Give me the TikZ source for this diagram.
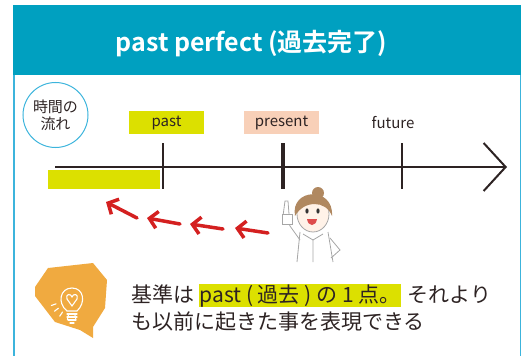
\documentclass[tikz,border=0pt]{standalone}
\usepackage{fontspec}
\setmainfont{Noto Sans CJK JP}[BoldFont={Noto Sans CJK JP Bold}]
\usepackage{tikz}
\usetikzlibrary{positioning,arrows.meta}
\definecolor{cHead}{RGB}{0,160,192}
\definecolor{cFrame}{RGB}{60,180,220}
\definecolor{cPast}{RGB}{220,224,0}
\definecolor{cPres}{RGB}{248,208,184}
\definecolor{cArrow}{RGB}{212,32,32}
\definecolor{cBulb}{RGB}{240,170,64}
\definecolor{cText}{RGB}{45,35,35}
\definecolor{cHair}{RGB}{176,136,96}
\definecolor{cSkin}{RGB}{255,242,232}

\begin{document}
\begin{tikzpicture}[x=1pt,y=-1pt,
   lbl/.style={minimum width=75pt,minimum height=23pt,inner sep=0pt,font=\fontsize{15}{15}\selectfont,text=cText},
   tick/.style={line width=2pt,draw=cText},
   back/.style={-{Straight Barb[length=8pt,width=17pt]},line width=3.5pt,draw=cArrow,line cap=round},
   body/.style={font=\fontsize{21}{21}\selectfont,text=cText,inner sep=0pt}]
  \useasboundingbox (0,0) rectangle (523,356);
  % frame and header bar
  \draw[cFrame,line width=1.2pt] (14,75) -- (14,356) (520.5,75) -- (520.5,356);
  \fill[cHead] (13,5) rectangle (521,75);
  \node[font=\fontsize{25}{25}\selectfont\bfseries,text=white,anchor=base] (title) at (251.5,51) {past perfect (過去完了)};
  \node[circle,draw=cFrame,line width=1pt,minimum size=65pt,inner sep=0pt,align=center,
        font=\fontsize{15}{17}\selectfont,text=cText] (flow) at (55.5,115) {時間の\\流れ};
  % time line
  \fill[cPast] (48,170) rectangle (160,189);
  \coordinate (t0) at (55,167);
  \coordinate (tend) at (507,167);
  \draw[line width=2pt,cText,-{Straight Barb[length=22pt,width=48pt,line width=2pt]}] (t0) -- (tend);
  \coordinate (pastpt) at (163,166);
  \coordinate (prespt) at (283,166);
  \coordinate (futpt) at (402,166);
  \draw[tick] (pastpt) ++(0,-23) -- ++(0,46);
  \draw[tick,line width=4.5pt] (prespt) ++(0,-23) -- ++(0,46);
  \draw[tick] (futpt) ++(0,-23) -- ++(0,46);
  \node[lbl,fill=cPast] (pastlbl) at (166.5,122.5) {past};
  \node[lbl,fill=cPres] (preslbl) at (281.5,122.5) {present};
  \node[lbl] (futlbl) at (393,122.5) {future};
  % arrows back into the past
  \coordinate (r1a) at (137,218); \coordinate (r1b) at (106,202);
  \coordinate (r2a) at (180,224); \coordinate (r2b) at (147,218);
  \coordinate (r3a) at (223,229); \coordinate (r3b) at (190,224);
  \coordinate (r4a) at (268,233); \coordinate (r4b) at (235,228);
  \foreach \i in {1,...,4}
    \draw[back] (r\i a) -- (r\i b);
  % the boy pointing up
  \begin{scope}[draw=black!35,line width=0.8pt]
    \draw (300,232) -- (297,262) (328,232) -- (333,262);
    \draw (303,234) -- (313,240) -- (323,234) (313,240) -- (313,262);
    \draw (300,240) -- (290,226) -- (286,214);
    \draw (283,216) -- (285,201) -- (288,201) -- (289,214);
    \draw[fill=white] (282,214) rectangle (292,224);
    \draw (330,238) -- (340,250) -- (331,258);
    \draw[fill=cSkin] (313,214) ellipse (16 and 18);
    \fill[cHair] (295,216) .. controls (290,188) and (334,186) .. (332,216)
       .. controls (326,200) and (304,200) .. (295,216);
    \fill[cHair] (318,193) circle (6);
  \end{scope}
  \fill[black!80] (307,211) ellipse (1.6 and 2.6) (318,211) ellipse (1.6 and 2.6);
  \fill[cArrow!80] (307,219) .. controls (308,227) and (316,227) .. (317,219) -- cycle;
  % bulb tip
  \fill[cBulb] (48,268) -- (93,263) -- (107,280) -- (105,308) -- (93,327) -- (93,338)
     -- (80,330) -- (55,322) -- (35,296) -- (35,287) -- cycle;
  \begin{scope}[white,line width=1.1pt,line cap=round]
    \draw (67,311) .. controls (57,303) and (60,288) .. (72,288)
       .. controls (84,288) and (86,303) .. (77,311) -- cycle;
    \draw (67,314) -- (77,314) (67,317) -- (77,317) (68,320) -- (76,320) (70,323) -- (74,323);
    \draw (72,306) -- (67,299) .. controls (65,294) and (71,293) .. (72,297)
       .. controls (73,293) and (79,294) .. (77,299) -- cycle;
    \foreach \a in {80,102,124,143,160}
      \draw (72,298) ++(\a:17) -- ++(\a:5);
  \end{scope}
  % note text
  \node[body,anchor=base west] (l1a) at (131,302) {基準は};
  \node[body,fill=cPast,inner xsep=1pt,text height=17pt,text depth=4pt,inner ysep=1pt,
        base right=4pt of l1a] (l1b) {past ( 過去 ) の 1 点。};
  \node[body,base right=6pt of l1b] (l1c) {それより};
  \node[body,anchor=base west] (l2) at (131,329) {も以前に起きた事を表現できる};
\end{tikzpicture}
\end{document}
